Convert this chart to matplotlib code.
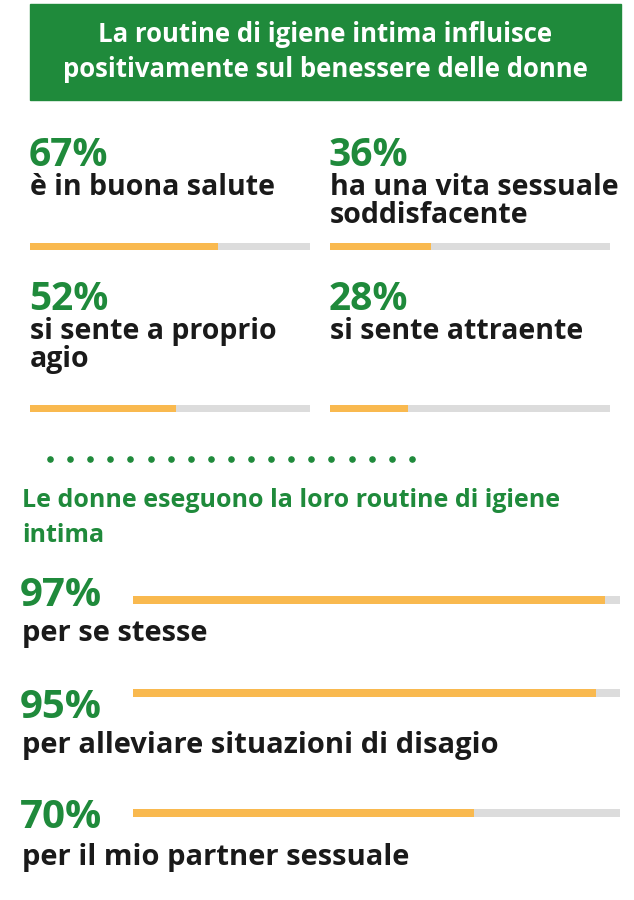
import matplotlib.pyplot as plt
from matplotlib.patches import Rectangle

# data
title_lines = ["La routine di igiene intima influisce", "positivamente sul benessere delle donne"]
top_pcts = [67, 36, 52, 28]
top_labels = ["è in buona salute", "ha una vita sessuale\nsoddisfacente",
              "si sente a proprio\nagio", "si sente attraente"]
subtitle = "Le donne eseguono la loro routine di igiene\nintima"
bottom_pcts = [97, 95, 70]
bottom_labels = ["per se stesse", "per alleviare situazioni di disagio",
                 "per il mio partner sessuale"]

GREEN = "#1f8a3b"
ORANGE = "#f9b94f"
GREY = "#dcdcdc"
FONT = "Open Sans"

W, H = 634, 900
fig = plt.figure(figsize=(W / 100, H / 100), dpi=100)
ax = fig.add_axes([0, 0, 1, 1])
ax.set_xlim(0, W)
ax.set_ylim(H, 0)
ax.axis("off")


def bar_axes(x0, x1, yc, h, value):
    b = fig.add_axes([x0 / W, 1 - (yc + h / 2) / H, (x1 - x0) / W, h / H])
    b.barh([0], [100], height=1, color=GREY)
    b.barh([0], [value], height=1, color=ORANGE)
    b.set_xlim(0, 100)
    b.set_ylim(-0.5, 0.5)
    b.axis("off")


# header
ax.add_patch(Rectangle((30, 4), 591, 96, color=GREEN))
ax.text(325, 52, "\n".join(title_lines), color="white", fontsize=18.5, fontweight="bold",
        family=FONT, ha="center", va="center", linespacing=1.35)

# top grid
cols = [30, 330]
rows = [(155, 188, 246), (300, 332, 408)]
for i, (pct, lab) in enumerate(zip(top_pcts, top_labels)):
    x = cols[i % 2]
    yp, yl, yb = rows[i // 2]
    ax.text(x - 1, yp, f"{pct}%", color=GREEN, fontsize=28, fontweight="bold",
            family=FONT, va="center")
    ax.text(x, yl - 15, lab, color="#1a1a1a", fontsize=20.5, fontweight="bold",
            family=FONT, va="top", linespacing=0.97)
    bar_axes(x, x + 280, yb, 7, pct)

# dots
ax.scatter([50 + k * 20.1 for k in range(19)], [459] * 19, s=14, color=GREEN)

# subtitle
ax.text(22, 518, subtitle, color=GREEN, fontsize=18, fontweight="bold",
        family=FONT, va="center", linespacing=1.5)

# bottom bars
ys = [(595, 600, 633), (707, 693, 745), (818, 813, 857)]
for pct, lab, (yp, yb, yl) in zip(bottom_pcts, bottom_labels, ys):
    ax.text(20, yp, f"{pct}%", color=GREEN, fontsize=29, fontweight="bold",
            family=FONT, va="center")
    ax.text(22, yl, lab, color="#1a1a1a", fontsize=21, fontweight="bold",
            family=FONT, va="center")
    bar_axes(133, 620, yb, 8, pct)

fig.savefig("out.png", dpi=100, facecolor="white")
